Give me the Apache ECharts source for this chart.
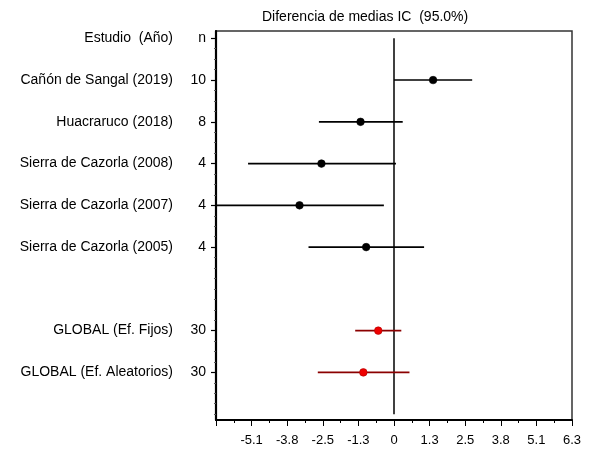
<!DOCTYPE html>
<html>
<head>
<meta charset="utf-8">
<script src="https://cdn.jsdelivr.net/npm/echarts@6/dist/echarts.min.js"></script>
<style>html,body{margin:0;padding:0;background:#fff;}#c{width:590px;height:452px;}</style>
</head>
<body>
<div id="c"></div>
<script>
// Row positions (top to bottom) and their labels
const rowPos = [0, 1, 2, 3, 4, 5, 7, 8];
const rowNames = ['Estudio  (Año)', 'Cañón de Sangal (2019)', 'Huacraruco (2018)', 'Sierra de Cazorla (2008)', 'Sierra de Cazorla (2007)', 'Sierra de Cazorla (2005)', 'GLOBAL (Ef. Fijos)', 'GLOBAL (Ef. Aleatorios)'];
const rowN = ['n', '10', '8', '4', '4', '4', '30', '30'];

// Individual studies: row, mean difference, CI low, CI high
const studyRows = [1, 2, 3, 4, 5];
const studyMean = [1.39, -1.19, -2.58, -3.36, -0.99];
const studyLow  = [0.00, -2.67, -5.19, -6.33, -3.04];
const studyHigh = [2.78, 0.31, 0.07, -0.36, 1.07];

// Global estimates
const globalRows = [7, 8];
const globalMean = [-0.56, -1.09];
const globalLow  = [-1.38, -2.71];
const globalHigh = [0.26, 0.55];

// X axis tick labels
const xTickValues = [-5.064, -3.798, -2.532, -1.266, 0, 1.266, 2.532, 3.798, 5.064, 6.33];
const xTickLabels = ['-5.1', '-3.8', '-2.5', '-1.3', '0', '1.3', '2.5', '3.8', '5.1', '6.3'];

// Minor ticks on the study axis
const yMinorTicks = [0.25,0.5,0.75,1.25,1.5,1.75,2.25,2.5,2.75,3.25,3.5,3.75,4.25,4.5,4.75,5.25,5.5,5.75,6,6.25,6.5,6.75,7.25,7.5,7.75,8.25,8.5,8.75,9];

// Reference (no effect) line
const refLine = [[0, 0], [0, 9]];

const FONT = 'Liberation Sans, Arial, sans-serif';

function toData(rows, mean, low, high) {
  return rows.map((r, i) => [r, low[i], mean[i], high[i]]);
}

function ciRender(lineColor, dotColor, dotBorder) {
  return function (params, api) {
    const r = api.value(0);
    const pLo = api.coord([api.value(1), r]);
    const pM = api.coord([api.value(2), r]);
    const pHi = api.coord([api.value(3), r]);
    return {
      type: 'group',
      children: [
        { type: 'line', shape: { x1: pLo[0], y1: pLo[1], x2: pHi[0], y2: pHi[1] },
          style: { stroke: lineColor, lineWidth: 1.6 } },
        { type: 'circle', shape: { cx: pM[0], cy: pM[1], r: 3.8 },
          style: { fill: dotColor, stroke: dotBorder, lineWidth: 0.6 } }
      ]
    };
  };
}

const chart = echarts.init(document.getElementById('c'), null, { renderer: 'canvas' });
chart.setOption({
  animation: false,
  backgroundColor: '#fff',
  title: {
    text: 'Diferencia de medias IC  (95.0%)',
    left: 257, top: 5,
    textStyle: { fontFamily: FONT, fontSize: 14, fontWeight: 'normal', color: '#000' }
  },
  grid: {
    left: 216, right: 18, top: 31, bottom: 32,
    show: true, borderColor: '#333', borderWidth: 1.5, backgroundColor: 'transparent'
  },
  xAxis: {
    type: 'value', min: -6.33, max: 6.33, interval: 1.266,
    axisLine: { show: true, onZero: false, lineStyle: { color: '#000', width: 2 } },
    splitLine: { show: false },
    axisTick: { show: true, length: 6, inside: false, lineStyle: { color: '#000', width: 1 } },
    minorTick: { show: true, splitNumber: 2, length: 3, lineStyle: { color: '#000', width: 1 } },
    axisLabel: {
      customValues: xTickValues,
      margin: 14,
      fontFamily: FONT, fontSize: 13, color: '#000',
      formatter: function (v) {
        let best = 0, bd = Infinity;
        xTickValues.forEach((t, i) => { const d = Math.abs(t - v); if (d < bd) { bd = d; best = i; } });
        return xTickLabels[best];
      }
    }
  },
  yAxis: [{
    type: 'value', inverse: true, min: -0.175, max: 9.14, position: 'left',
    axisLine: { show: true, onZero: false, lineStyle: { color: '#000', width: 2.2 } },
    splitLine: { show: false },
    axisTick: { show: true, customValues: rowPos, length: 5, lineStyle: { color: '#000', width: 1.2 } },
    axisLabel: {
      customValues: rowPos,
      margin: 10,
      fontFamily: FONT, fontSize: 14, color: '#000',
      formatter: function (v) {
        let best = 0, bd = Infinity;
        rowPos.forEach((t, i) => { const d = Math.abs(t - v); if (d < bd) { bd = d; best = i; } });
        return '{a|' + rowNames[best] + '}{b|' + rowN[best] + '}';
      },
      rich: {
        a: { width: 168, align: 'right', fontFamily: FONT, fontSize: 14, color: '#000' },
        b: { width: 33, align: 'right', fontFamily: FONT, fontSize: 14, color: '#000' }
      }
    }
  }, {
    type: 'value', inverse: true, min: -0.175, max: 9.14, position: 'left',
    axisLine: { show: false, onZero: false },
    splitLine: { show: false },
    axisLabel: { show: false },
    axisTick: {
      show: true, length: 2,
      customValues: yMinorTicks,
      lineStyle: { color: '#555', width: 1 }
    }
  }],
  series: [
    {
      type: 'line', data: refLine, yAxisIndex: 0, symbol: 'none',
      lineStyle: { color: '#000', width: 1.5 }, z: 2, silent: true
    },
    {
      type: 'custom', yAxisIndex: 0, z: 3,
      encode: { x: [1, 2, 3], y: 0 },
      data: toData(studyRows, studyMean, studyLow, studyHigh),
      renderItem: ciRender('#000', '#000', '#000')
    },
    {
      type: 'custom', yAxisIndex: 0, z: 3,
      encode: { x: [1, 2, 3], y: 0 },
      data: toData(globalRows, globalMean, globalLow, globalHigh),
      renderItem: ciRender('#8b0000', '#ee0000', '#b00000')
    }
  ]
});
</script>
</body>
</html>
